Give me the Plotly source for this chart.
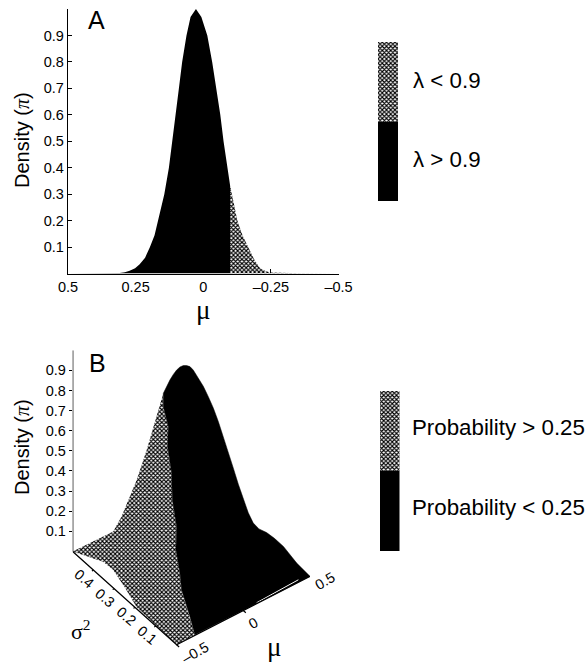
import plotly.graph_objects as go

W, H = 587, 666

# Panel A: marginal density of mu
mu_high = [0.5, 0.40, 0.33, 0.309, 0.29, 0.272, 0.252, 0.235, 0.215, 0.197, 0.18, 0.167, 0.144, 0.127, 0.114, 0.102,
           0.09, 0.078, 0.062, 0.047, 0.027, 0.007, -0.015, -0.033, -0.049, -0.063, -0.075, -0.089, -0.099]
density_high = [0.0, 0.0, 0.001, 0.002, 0.005, 0.01, 0.02, 0.035, 0.06, 0.1, 0.145, 0.2, 0.3, 0.4, 0.5, 0.6,
                0.7, 0.8, 0.9, 0.97, 1.0, 0.97, 0.9, 0.8, 0.7, 0.6, 0.5, 0.4, 0.335]
mu_low = [-0.099, -0.126, -0.145, -0.167, -0.19, -0.21, -0.23, -0.247, -0.358, -0.5]
density_low = [0.335, 0.2, 0.145, 0.1, 0.05, 0.02, 0.009, 0.004, 0.001, 0.0]
mu_ticks = [0.5, 0.25, 0, -0.25, -0.5]
mu_tick_text = ["0.5", "0.25", "0", "\u20130.25", "\u20130.5"]
density_ticks = [0.1, 0.2, 0.3, 0.4, 0.5, 0.6, 0.7, 0.8, 0.9]

# Panel B: silhouette of the surface as drawn (projected position, height)
gray_h = [0, 0.171, 0.206, 0.235, 0.270, 0.312, 0.354, 0.382, 0.382, 0.403, 0.400, 0.417, 0.420, 0.438, 0.435,
          0.452, 0.459, 0.494, 0.515, 0.438, 0.271, 0.221, 0.170, 0.128, 0]
gray_d = [0, 0.099, 0.174, 0.257, 0.356, 0.505, 0.679, 0.786, 0.720, 0.621, 0.522, 0.389, 0.257, 0.124, 0.008,
          -0.108, -0.190, -0.323, -0.414, -0.464, -0.280, -0.182, -0.091, -0.051, 0]
black_h = [0.382, 0.396, 0.410, 0.424, 0.438, 0.452, 0.466, 0.480, 0.494, 0.508, 0.522, 0.537, 0.551, 0.572, 0.593,
           0.614, 0.635, 0.656, 0.677, 0.698, 0.719, 0.740, 0.761, 0.785, 0.817, 0.850, 0.888, 0.915, 0.944,
           1.0, 0.515, 0.494, 0.459, 0.452, 0.435, 0.438, 0.420, 0.417, 0.400, 0.403, 0.382, 0.382]
black_d = [0.786, 0.822, 0.853, 0.880, 0.902, 0.917, 0.924, 0.924, 0.919, 0.902, 0.877, 0.850, 0.820, 0.768, 0.712,
           0.645, 0.571, 0.493, 0.414, 0.334, 0.257, 0.192, 0.141, 0.112, 0.094, 0.065, 0.025, -0.015, -0.058,
           -0.124, -0.414, -0.323, -0.190, -0.108, 0.008, 0.124, 0.257, 0.389, 0.522, 0.621, 0.720, 0.786]
sliver_h = [0.775, 0.951]
sliver_d = [-0.255, -0.141]
sigma_ticks = [0.4, 0.3, 0.2, 0.1]
mu_b_ticks = [-0.5, 0, 0.5]
mu_b_text = ["\u20130.5", "0", "0.5"]

legend_a = ["\u03bb < 0.9", "\u03bb > 0.9"]
legend_b = ["Probability > 0.25", "Probability < 0.25"]

SANS = "Liberation Sans, Arial, sans-serif"
SERIF = "Liberation Serif, serif"
pattern = dict(shape="x", size=3, solidity=0.6, fgcolor="#000000", bgcolor="#ffffff", fillmode="replace")


def px(x):
    return x / W


def py(y):
    return 1 - y / H


def project(mu, s2):
    """Oblique projection of the floor (mu, sigma^2) into panel B's axes."""
    corner_front = (0.438, -0.464)
    corner_right = (1.0, -0.124)
    corner_back = (0.0, 0.0)
    t = mu + 0.5
    u = s2 / 0.5
    return (corner_front[0] + t * (corner_right[0] - corner_front[0]) + u * (corner_back[0] - corner_front[0]),
            corner_front[1] + t * (corner_right[1] - corner_front[1]) + u * (corner_back[1] - corner_front[1]))


fig = go.Figure()

# Panel A
fig.add_trace(go.Scatter(x=mu_high, y=density_high, mode="lines", line=dict(width=0), fill="tozeroy",
                         fillcolor="#000000", xaxis="x", yaxis="y", name="\u03bb > 0.9"))
fig.add_trace(go.Scatter(x=mu_low, y=density_low, mode="lines", line=dict(width=0), fill="tozeroy",
                         fillcolor="#808080", fillpattern=pattern, xaxis="x", yaxis="y", name="\u03bb < 0.9"))

# Panel B
fig.add_trace(go.Scatter(x=gray_h, y=gray_d, mode="lines", line=dict(width=0), fill="toself",
                         fillcolor="#808080", fillpattern=pattern, xaxis="x2", yaxis="y2", name="Probability > 0.25"))
fig.add_trace(go.Scatter(x=black_h, y=black_d, mode="lines", line=dict(width=0.5, color="#000000"), fill="toself",
                         fillcolor="#000000", xaxis="x2", yaxis="y2", name="Probability < 0.25"))
fig.add_trace(go.Scatter(x=sliver_h, y=sliver_d, mode="lines", line=dict(width=1, color="#ffffff"),
                         xaxis="x2", yaxis="y2"))

# Panel B floor edges and the vertical axis line
back = project(-0.5, 0.5)
front = project(-0.5, 0.0)
right = project(0.5, 0.0)
fig.add_trace(go.Scatter(x=[back[0], front[0], right[0]], y=[back[1], front[1], right[1]], mode="lines",
                         line=dict(width=1.3, color="#000000"), xaxis="x2", yaxis="y2"))
fig.add_trace(go.Scatter(x=[0, 0], y=[0, 1], mode="lines", line=dict(width=1.3, color="#000000"),
                         xaxis="x2", yaxis="y2", cliponaxis=False))

# Panel B floor ticks
for m in mu_b_ticks:
    a, b = project(m, 0.0), project(m, -0.012)
    fig.add_trace(go.Scatter(x=[a[0], b[0]], y=[a[1], b[1]], mode="lines", line=dict(width=1.2, color="#000000"),
                             xaxis="x2", yaxis="y2"))
for s in sigma_ticks:
    a, b = project(-0.5, s), project(-0.512, s)
    fig.add_trace(go.Scatter(x=[a[0], b[0]], y=[a[1], b[1]], mode="lines", line=dict(width=1.2, color="#000000"),
                             xaxis="x2", yaxis="y2"))

# Legend bars
for xa, ya, names in (("x3", "y3", legend_a), ("x4", "y4", legend_b)):
    fig.add_trace(go.Bar(x=[0], y=[1], width=1, marker=dict(color="#000000", line=dict(width=0)),
                         xaxis=xa, yaxis=ya, name=names[1]))
    fig.add_trace(go.Bar(x=[0], y=[1], width=1,
                         marker=dict(color="#ffffff", line=dict(width=0),
                                     pattern=dict(shape="x", size=3, solidity=0.6, fgcolor="#000000",
                                                  bgcolor="#ffffff", fillmode="replace")),
                         xaxis=xa, yaxis=ya, name=names[0]))

tick_font = dict(family=SANS, size=14.5, color="#000000")
hidden = dict(visible=False, showgrid=False, zeroline=False, fixedrange=True)

fig.update_layout(
    template="none",
    width=W, height=H, autosize=False, showlegend=False, barmode="stack",
    paper_bgcolor="#ffffff", plot_bgcolor="rgba(0,0,0,0)", margin=dict(l=0, r=0, t=0, b=0),
    xaxis=dict(domain=[px(68), px(338.5)], range=[0.5, -0.5], tickvals=mu_ticks, ticktext=mu_tick_text,
               ticks="inside", ticklen=4, tickcolor="#000000", tickwidth=1.2, showline=True, linecolor="#000000",
               linewidth=1.3, showgrid=False, zeroline=False, tickfont=tick_font, anchor="y", automargin=False),
    yaxis=dict(domain=[py(273.5), py(9)], range=[0, 1], tickvals=density_ticks, ticks="inside", ticklen=4,
               tickcolor="#000000", tickwidth=1.2, showline=True, linecolor="#000000", linewidth=1.3,
               showgrid=False, zeroline=False, tickfont=tick_font, anchor="x", tickformat=".1f", automargin=False),
    xaxis2=dict(domain=[px(72.7), px(310)], range=[0, 1], anchor="y2", visible=False, showgrid=False, zeroline=False),
    yaxis2=dict(domain=[py(652), py(350.3)], range=[-0.5, 1], tickvals=density_ticks, ticks="outside", ticklen=3,
                tickcolor="#000000", tickwidth=1.2, showline=False, showgrid=False, zeroline=False,
                tickfont=tick_font, anchor="x2", tickformat=".1f", automargin=False),
    xaxis3=dict(domain=[px(378), px(398)], range=[-0.5, 0.5], anchor="y3", **hidden),
    yaxis3=dict(domain=[py(201), py(42)], range=[0, 2], anchor="x3", **hidden),
    xaxis4=dict(domain=[px(379.5), px(399.5)], range=[-0.5, 0.5], anchor="y4", **hidden),
    yaxis4=dict(domain=[py(551), py(391)], range=[0, 2], anchor="x4", **hidden),
)


def note(x, y, text, size, family=SANS, angle=0, **kw):
    fig.add_annotation(x=px(x), y=py(y), xref="paper", yref="paper", text=text, showarrow=False,
                       font=dict(family=family, size=size, color="#000000"), textangle=angle,
                       xanchor="center", yanchor="middle", **kw)


title = 'Density (<span style="font-family:Liberation Serif"><i>\u03c0</i></span>)'
note(22, 140, title, 20, angle=-90)
note(22, 447, title, 20, angle=-90)
note(96, 20, "A", 25)
note(97, 363, "B", 25)
note(203, 310, "\u03bc", 27, family=SERIF)
note(274, 647, "\u03bc", 27, family=SERIF)
note(81, 630, "\u03c3<sup>2</sup>", 22, family=SERIF)

note(447, 81, legend_a[0], 22.3)
note(447, 159, legend_a[1], 22.3)
note(498, 428, legend_b[0], 22.3)
note(498, 507, legend_b[1], 22.3)

# Panel B floor tick labels
for m, text, dx, dy in zip(mu_b_ticks, mu_b_text, (18, 10, 15), (8, 12, 5)):
    x, y = project(m, 0.0)
    fig.add_annotation(x=x, y=y, xref="x2", yref="y2", text=text, showarrow=False, textangle=-30, xshift=dx,
                       yshift=-dy, font=tick_font)
for s in sigma_ticks:
    x, y = project(-0.5, s)
    fig.add_annotation(x=x, y=y, xref="x2", yref="y2", text=f"{s:.1f}", showarrow=False, textangle=40, xshift=-9,
                       yshift=-9, font=tick_font)

fig.write_html("out.html", config=dict(displayModeBar=False),
               post_script="document.body.style.margin='0';document.documentElement.style.overflow='hidden';")
